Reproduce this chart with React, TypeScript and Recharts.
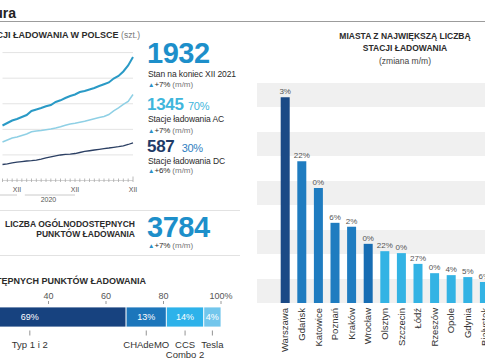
import React from "react";
import {
  LineChart,
  Line,
  BarChart,
  Bar,
  XAxis,
  YAxis,
  CartesianGrid,
  Cell,
  LabelList,
} from "recharts";

// monthly counts of public charging stations (Sep 2019 - Dec 2021)
const months = [
  "IX", "X", "XI", "XII",
  "I", "II", "III", "IV", "V", "VI", "VII", "VIII", "IX", "X", "XI", "XII",
  "I", "II", "III", "IV", "V", "VI", "VII", "VIII", "IX", "X", "XI", "XII",
];
const monthYears = [
  2019, 2019, 2019, 2019,
  2020, 2020, 2020, 2020, 2020, 2020, 2020, 2020, 2020, 2020, 2020, 2020,
  2021, 2021, 2021, 2021, 2021, 2021, 2021, 2021, 2021, 2021, 2021, 2021,
];
const totalStations = [
  860, 899, 938, 962, 993, 1024, 1087, 1110, 1134, 1160, 1181, 1228, 1254, 1290,
  1322, 1345, 1384, 1400, 1423, 1447, 1478, 1505, 1533, 1595, 1634, 1705, 1799, 1932,
];
const acStations = [
  602, 633, 665, 680, 704, 727, 763, 774, 782, 793, 805, 821, 841, 863, 884, 895,
  910, 926, 946, 967, 985, 1001, 1032, 1087, 1134, 1189, 1236, 1345,
];
const dcStations = [
  250, 261, 274, 286, 296, 305, 311, 319, 336, 355, 371, 386, 399, 408, 414, 422,
  438, 454, 465, 477, 488, 499, 508, 519, 530, 543, 563, 587,
];

// cities
const cities = [
  "Warszawa", "Gdańsk", "Katowice", "Poznań", "Kraków", "Wrocław", "Olsztyn",
  "Szczecin", "Łódź", "Rzeszów", "Opole", "Gdynia", "Białystok",
];
const cityStations = [421, 290, 235, 164, 156, 121, 106, 102, 80, 61, 57, 53, 43];
const cityChange = ["3%", "22%", "0%", "6%", "2%", "0%", "22%", "0%", "27%", "0%", "4%", "5%", "6%"];
const cityColors = [
  "#1b4a86", "#1f7cc0", "#1f7cc0", "#1f7cc0", "#1f7cc0", "#176db3",
  "#33b3e4", "#33b3e4", "#33b3e4", "#33b3e4", "#33b3e4", "#33b3e4", "#33b3e4",
];

// connector types
const connectorNames = [["Typ 1 i 2"], ["CHAdeMO"], ["CCS", "Combo 2"], ["Tesla"]];
const connectorShare = [67, 14, 13, 6];
const connectorLabels = ["69%", "13%", "14%", "4%"];
const connectorColors = ["#17427f", "#1c76bb", "#2db2ea", "#72c6ec"];
const shareTicks = [0, 20, 40, 60, 80, 100];

const lineData = months.map((m, i) => ({
  i,
  total: totalStations[i],
  ac: acStations[i],
  dc: dcStations[i],
}));
const cityData = cities.map((c, i) => ({ city: c, stations: cityStations[i], change: cityChange[i] }));
const shareRow = [
  connectorShare.reduce((o, v, i) => ({ ...o, ["k" + i]: v }), { name: "all" } as any),
];

const FONT = '"Liberation Sans", Arial, sans-serif';
const LINE_W = 140;
const LINE_LEFT = 2.5;
const LINE_RIGHT = 7;
const STEP = (LINE_W - LINE_LEFT - LINE_RIGHT) / (months.length - 1);

const MonthTick = (props: any) => {
  const { x, y, payload } = props;
  const i = payload.value as number;
  const isDec = months[i] === "XII";
  return (
    <g>
      <line x1={x} x2={x} y1={y - (i === months.length - 1 ? 4 : 2)} y2={y + 1.5} stroke="#a8a8a8" strokeWidth={0.8} />
      {isDec && (
        <text x={x} y={y + 11} textAnchor="middle" fontSize={7} fill="#555" fontFamily={FONT}>
          XII
        </text>
      )}
      {isDec && monthYears[i] <= 2020 && (
        <>
          <line x1={x - 11 * STEP + 3} x2={x} y1={y + 14.5} y2={y + 14.5} stroke="#bdbdbd" strokeWidth={0.8} />
          <text x={x - 5.5 * STEP} y={y + 21.5} textAnchor="middle" fontSize={7} fill="#555" fontFamily={FONT}>
            {monthYears[i]}
          </text>
        </>
      )}
    </g>
  );
};

const CityTick = (props: any) => {
  const { x, y, payload } = props;
  return (
    <g transform={`translate(${x},${y})`}>
      <text transform="rotate(-90)" x={-5} dy={3.4} textAnchor="end" fontSize={9.5} fill="#333" fontFamily={FONT}>
        {payload.value}
      </text>
    </g>
  );
};

const shareLabel = (idx: number) => (props: any) => {
  const { x, y, width, height } = props;
  const cx = x + width / 2;
  const names = connectorNames[idx];
  return (
    <g fontFamily={FONT}>
      <text x={cx} y={y + height / 2 + 3.3} textAnchor="middle" fontSize={9} fill="#fff">
        {connectorLabels[idx]}
      </text>
      <line x1={cx} x2={cx} y1={y + height + 3.5} y2={y + height + 8.5} stroke="#777" strokeWidth={0.8} />
      {names.map((n, k) => (
        <text key={k} x={cx} y={y + height + 21 + k * 10} textAnchor="middle" fontSize={9.5} fill="#333">
          {n}
        </text>
      ))}
    </g>
  );
};

const T = ({ x, y, size, children, style }: any) => (
  <div
    style={{
      position: "absolute",
      left: x,
      top: y,
      fontSize: size,
      lineHeight: 1,
      whiteSpace: "nowrap",
      color: "#2b2b2b",
      ...style,
    }}
  >
    {children}
  </div>
);

const Change = ({ x, y, text }: any) => (
  <T x={x} y={y} size={8}>
    <span style={{ color: "#2a8fc8", fontSize: 6.5 }}>▲</span>
    <span style={{ letterSpacing: -0.2 }}>{text}</span>{" "}
    <span style={{ color: "#777" }}>(m/m)</span>
  </T>
);

export default function App() {
  return (
    <div
      style={{
        position: "absolute",
        left: 0,
        top: 0,
        width: 485,
        height: 360,
        overflow: "hidden",
        background: "#fff",
        fontFamily: FONT,
      }}
    >
      <T x={0} y={6} size={14} style={{ left: "auto", right: 469, fontWeight: 700, color: "#222" }}>
        Infrastruktura
      </T>
      <div style={{ position: "absolute", left: 0, top: 20.5, width: 485, height: 1, background: "#9c9c9c" }} />

      {/* left: station counts */}
      <T x={0} y={30.5} size={9} style={{ left: "auto", right: 345, fontWeight: 700 }}>
        STACJI ŁADOWANIA W POLSCE <span style={{ fontWeight: 400, color: "#777", fontSize: 8.5 }}>(szt.)</span>
      </T>
      <div style={{ position: "absolute", left: 0, top: 0 }}>
        <LineChart
          width={LINE_W}
          height={215}
          data={lineData}
          margin={{ top: 52.6, right: LINE_RIGHT, bottom: 4.5, left: LINE_LEFT }}
        >
          <CartesianGrid vertical={false} stroke="#e3e3e3" />
          <YAxis hide domain={[0, 2000]} ticks={[0, 200, 400, 600, 800, 1000, 1200, 1400, 1600, 1800, 2000]} />
          <XAxis
            dataKey="i"
            height={30}
            interval={0}
            tickSize={0}
            tickMargin={0}
            tickLine={false}
            axisLine={{ stroke: "#cfcfcf", strokeWidth: 0.8 }}
            tick={<MonthTick />}
          />
          <Line dataKey="dc" stroke="#2b3f63" strokeWidth={1.3} dot={false} isAnimationActive={false} />
          <Line dataKey="ac" stroke="#8fd0e5" strokeWidth={1.5} dot={false} isAnimationActive={false} />
          <Line dataKey="total" stroke="#2a9ac6" strokeWidth={2} dot={false} isAnimationActive={false} />
        </LineChart>
      </div>

      <T x={147} y={41.9} size={29} style={{ fontWeight: 700, color: "#1d8fca", letterSpacing: -0.5, lineHeight: 0.8 }}>
        1932
      </T>
      <T x={148} y={70} size={8.5} style={{ letterSpacing: -0.1 }}>
        Stan na koniec XII 2021
      </T>
      <Change x={148} y={80.5} text="+7%" />

      <T x={147} y={98.3} size={17} style={{ fontWeight: 700, color: "#3fb6dc", letterSpacing: -0.3, lineHeight: 0.85 }}>
        1345 <span style={{ fontSize: 11, fontWeight: 400 }}>70%</span>
      </T>
      <T x={148} y={114.5} size={8.5} style={{ letterSpacing: -0.1 }}>
        Stacje ładowania AC
      </T>
      <Change x={148} y={126.5} text="+7%" />

      <T x={147} y={140.3} size={17} style={{ fontWeight: 700, color: "#1f3b68", letterSpacing: -0.3, lineHeight: 0.85 }}>
        587 <span style={{ fontSize: 11, fontWeight: 400, color: "#2f80c1" }}>&nbsp;30%</span>
      </T>
      <T x={148} y={156.5} size={8.5} style={{ letterSpacing: -0.1 }}>
        Stacje ładowania DC
      </T>
      <Change x={148} y={166.5} text="+6%" />

      <div style={{ position: "absolute", left: 0, top: 210, width: 240, height: 1, background: "#e2e2e2" }} />
      <T x={0} y={219} size={8.5} style={{ left: "auto", right: 350, fontWeight: 700, textAlign: "right", lineHeight: "10px" }}>
        LICZBA OGÓLNODOSTĘPNYCH
        <br />
        PUNKTÓW ŁADOWANIA
      </T>
      <T x={147} y={215.9} size={29} style={{ fontWeight: 700, color: "#1d8fca", letterSpacing: -0.5, lineHeight: 0.8 }}>
        3784
      </T>
      <Change x={148} y={241.5} text="+7%" />
      <div style={{ position: "absolute", left: 0, top: 255, width: 240, height: 1, background: "#e2e2e2" }} />

      {/* left bottom: connector structure */}
      <T x={0} y={277} size={9} style={{ left: "auto", right: 339, fontWeight: 700 }}>
        STRUKTURA OGÓLNODOSTĘPNYCH PUNKTÓW ŁADOWANIA
      </T>
      <div style={{ position: "absolute", left: -80, top: 285 }}>
        <BarChart
          width={330}
          height={75}
          layout="vertical"
          data={shareRow}
          margin={{ top: 0, right: 29, bottom: 30.6, left: 13.5 }}
        >
          <XAxis
            type="number"
            orientation="top"
            domain={[0, 100]}
            ticks={shareTicks}
            height={19}
            axisLine={false}
            tickSize={3}
            tickMargin={2}
            tickLine={{ stroke: "#999" }}
            tick={{ fontSize: 9, fill: "#555", fontFamily: FONT }}
            tickFormatter={(v: number) => (v === 100 ? "100%" : String(v))}
          />
          <YAxis type="category" dataKey="name" hide />
          {connectorShare.map((_, i) => (
            <Bar
              key={i}
              dataKey={"k" + i}
              stackId="a"
              fill={connectorColors[i]}
              stroke="#fff"
              strokeWidth={0.8}
              barSize={20}
              isAnimationActive={false}
            >
              <LabelList content={shareLabel(i)} />
            </Bar>
          ))}
        </BarChart>
      </div>

      {/* right: cities */}
      <T x={250} y={31} size={8.5} style={{ width: 310, textAlign: "center", fontWeight: 700, lineHeight: "11.5px", left: 250 }}>
        MIASTA Z NAJWIĘKSZĄ LICZBĄ
        <br />
        STACJI ŁADOWANIA
      </T>
      <T x={250} y={57} size={8.5} style={{ width: 310, textAlign: "center", color: "#444" }}>
        (zmiana m/m)
      </T>
      <div style={{ position: "absolute", left: 250, top: 70 }}>
        <BarChart
          width={250}
          height={290}
          data={cityData}
          margin={{ top: 13, right: 7.5, bottom: 2, left: 7 }}
        >
          <CartesianGrid vertical={false} stroke="transparent" horizontalFill={["#f0f0f0", "#ffffff"]} />
          <YAxis hide domain={[0, 450]} ticks={[0, 50, 100, 150, 200, 250, 300, 350, 400, 450]} />
          <XAxis
            dataKey="city"
            interval={0}
            padding={{ left: 19.7, right: 0 }}
            height={55}
            tickSize={0}
            tickMargin={0}
            tickLine={false}
            axisLine={false}
            tick={<CityTick />}
          />
          <Bar dataKey="stations" barSize={9} isAnimationActive={false}>
            {cityData.map((_, i) => (
              <Cell key={i} fill={cityColors[i]} />
            ))}
            <LabelList dataKey="change" position="top" offset={3} fontSize={8} fill="#555" fontFamily={FONT} />
          </Bar>
        </BarChart>
      </div>
    </div>
  );
}
